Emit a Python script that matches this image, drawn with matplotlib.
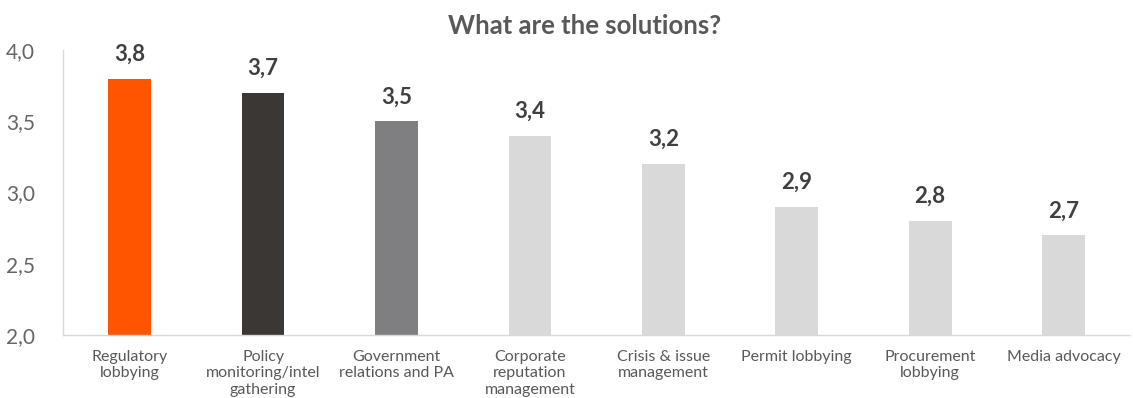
import matplotlib
matplotlib.use("Agg")
import matplotlib.pyplot as plt
from matplotlib.ticker import FuncFormatter

categories = ["Regulatory\nlobbying", "Policy\nmonitoring/intel\ngathering",
              "Government\nrelations and PA", "Corporate\nreputation\nmanagement",
              "Crisis & issue\nmanagement", "Permit lobbying",
              "Procurement\nlobbying", "Media advocacy"]
values = [3.8, 3.7, 3.5, 3.4, 3.2, 2.9, 2.8, 2.7]
colors = ["#FF5500", "#3B3734", "#7F7F82", "#D9D9D9", "#D9D9D9", "#D9D9D9", "#D9D9D9", "#D9D9D9"]
yticks = [2.0, 2.5, 3.0, 3.5, 4.0]
title = "What are the solutions?"

plt.rcParams['font.family'] = ['Lato', 'DejaVu Sans']

fig = plt.figure(figsize=(11.33, 3.98), dpi=100)
ax = fig.add_axes([0.0556, 0.1583, 0.942, 0.716])
x = list(range(len(categories)))
bars = ax.bar(x, values, width=0.32, color=colors, bottom=0)
ax.set_ylim(2.0, 4.0)
ax.set_xlim(-0.5, len(categories) - 0.5)
ax.set_yticks(yticks)
ax.yaxis.set_major_formatter(FuncFormatter(lambda v, p: f"{v:.1f}".replace(".", ",")))
ax.set_xticks(x)
ax.set_xticklabels(categories, fontsize=11.5, color="#595959", linespacing=1.2)
ax.tick_params(axis="y", length=0, labelsize=15, labelcolor="#666666", pad=20)
ax.tick_params(axis="x", length=0, pad=11)
for side in ["top", "right"]:
    ax.spines[side].set_visible(False)
for side in ["left", "bottom"]:
    ax.spines[side].set_color("#D9D9D9")
    ax.spines[side].set_linewidth(1)
for xi, v in zip(x, values):
    ax.annotate(f"{v:.1f}".replace(".", ","), (xi, v), xytext=(0, 10), textcoords="offset points",
                ha="center", va="bottom", fontsize=16, fontweight="bold", color="#404040")
fig.text(0.516, 0.935, title, ha="center", va="center", fontsize=18.5, fontweight="bold", color="#595959")
fig.savefig("out.png", dpi=100)
